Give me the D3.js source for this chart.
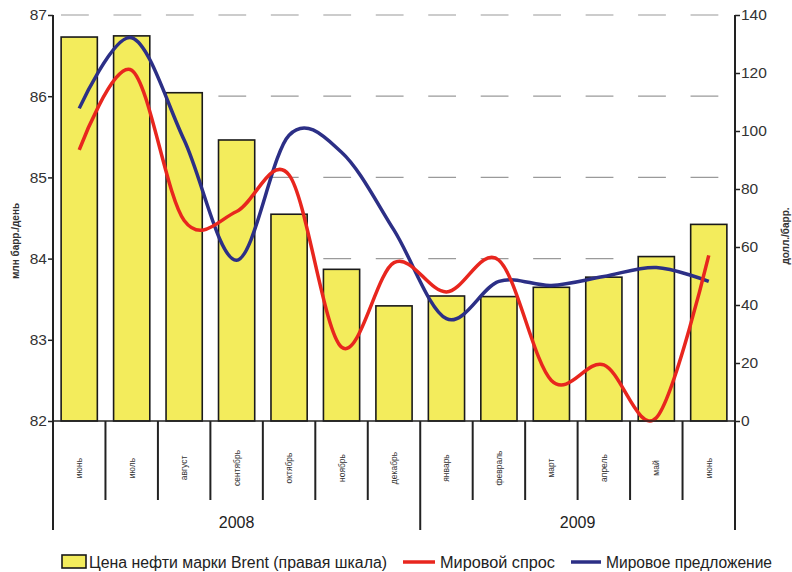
<!DOCTYPE html>
<html>
<head>
<meta charset="utf-8">
<script src="https://cdn.jsdelivr.net/npm/d3@7"></script>
<style>
  body { margin: 0; background: #fff; }
  svg { font-family: "Liberation Sans Narrow", "Arial Narrow", "Liberation Sans", Arial, sans-serif; }
</style>
</head>
<body>
<svg id="chart" width="792" height="572"></svg>
<script>
// данные читаются с картинки
const months = ["июнь", "июль", "август", "сентябрь", "октябрь", "ноябрь", "декабрь",
  "январь", "февраль", "март", "апрель", "май", "июнь"];
const years = ["2008", "2009"];
const yearStart = [0, 7]; // индекс первого месяца каждого года
const brent = [132.4, 132.8, 113.2, 96.9, 71.3, 52.3, 39.7, 43.1, 42.9, 46.1, 49.6, 56.7, 67.8];
const demand = [85.34, 86.32, 84.47, 84.58, 85.03, 82.91, 83.95, 83.59, 83.98, 82.5, 82.69, 82.04, 84.04];
const supply = [85.85, 86.72, 85.46, 83.98, 85.52, 85.31, 84.35, 83.26, 83.72, 83.67, 83.78, 83.89, 83.72];
const leftTicks = [82, 83, 84, 85, 86, 87];
const rightTicks = [0, 20, 40, 60, 80, 100, 120, 140];

const margin = { top: 15, right: 57, bottom: 151, left: 53 };
const width = 792, height = 572;
const x0 = margin.left, x1 = width - margin.right;
const y0 = height - margin.bottom, y1 = margin.top;

const svg = d3.select("#chart");

const x = d3.scaleBand().domain(d3.range(months.length)).range([x0, x1]);
const xBar = d3.scaleBand().domain(d3.range(months.length)).range([x0, x1])
  .paddingInner(0.31).paddingOuter(0.155);
const yL = d3.scaleLinear().domain([82, 87]).range([y0, y1]);
const yR = d3.scaleLinear().domain([0, 140]).range([y0, y1]);

// пунктирная сетка
const step = x.step();
svg.append("g")
  .selectAll("line")
  .data(leftTicks.filter((d) => d > 82))
  .join("line")
  .attr("x1", x0)
  .attr("x2", x1)
  .attr("y1", (d) => yL(d))
  .attr("y2", (d) => yL(d))
  .attr("stroke", "#9a9a9a")
  .attr("stroke-width", 1.2)
  .attr("stroke-dasharray", `${step * 0.53},${step * 0.47}`)
  .attr("stroke-dashoffset", step - 8);

// столбики Brent
svg.append("g")
  .selectAll("rect")
  .data(brent)
  .join("rect")
  .attr("x", (d, i) => xBar(i))
  .attr("width", xBar.bandwidth())
  .attr("y", (d) => yR(d))
  .attr("height", (d) => yR(0) - yR(d))
  .attr("fill", "#f3ec5c")
  .attr("stroke", "#1a1a1a")
  .attr("stroke-width", 1.6);

// линии
const line = (vals) =>
  d3.line()
    .x((d, i) => x(i) + x.bandwidth() / 2)
    .y((d) => yL(d))
    .curve(d3.curveCatmullRom.alpha(0))(vals);

svg.append("path")
  .attr("d", line(supply))
  .attr("fill", "none")
  .attr("stroke", "#2c2f86")
  .attr("stroke-width", 3.5);

svg.append("path")
  .attr("d", line(demand))
  .attr("fill", "none")
  .attr("stroke", "#e8261e")
  .attr("stroke-width", 3.5);

// левая ось
const leftAxis = svg.append("g")
  .attr("transform", `translate(${x0},0)`)
  .call(d3.axisLeft(yL).tickValues(leftTicks).tickFormat(d3.format("d")).tickSize(5).tickSizeOuter(0));
leftAxis.select(".domain").remove();
leftAxis.selectAll("line").attr("stroke", "#222").attr("stroke-width", 1.5);
leftAxis.selectAll("text").attr("font-size", 15.5).attr("fill", "#333").attr("x", -6);

// правая ось
const rightAxis = svg.append("g")
  .attr("transform", `translate(${x1},0)`)
  .call(d3.axisRight(yR).tickValues(rightTicks).tickSize(5).tickSizeOuter(0));
rightAxis.select(".domain").remove();
rightAxis.selectAll("line").attr("stroke", "#222").attr("stroke-width", 1.5);
rightAxis.selectAll("text").attr("font-size", 15.5).attr("fill", "#333").attr("x", 6);

// вертикальные линии осей, уходят вниз к годам
svg.append("line").attr("x1", x0).attr("x2", x0).attr("y1", y1).attr("y2", 530)
  .attr("stroke", "#222").attr("stroke-width", 2);
svg.append("line").attr("x1", x1).attr("x2", x1).attr("y1", y1).attr("y2", 530)
  .attr("stroke", "#222").attr("stroke-width", 2);
svg.append("line").attr("x1", x0).attr("x2", x1).attr("y1", y0).attr("y2", y0)
  .attr("stroke", "#222").attr("stroke-width", 1.5);

// разделители месяцев
svg.append("g")
  .selectAll("line")
  .data(d3.range(1, months.length))
  .join("line")
  .attr("x1", (i) => x(i))
  .attr("x2", (i) => x(i))
  .attr("y1", y0)
  .attr("y2", (i) => (yearStart.includes(i) ? 530 : 500))
  .attr("stroke", "#222")
  .attr("stroke-width", 2);

// подписи месяцев
svg.append("g")
  .selectAll("text")
  .data(months)
  .join("text")
  .attr("transform", (d, i) => `translate(${x(i) + x.bandwidth() / 2 + 3},468) rotate(-90)`)
  .attr("text-anchor", "middle")
  .attr("font-size", 8.5)
  .attr("fill", "#333")
  .text((d) => d);

// подписи годов
svg.append("g")
  .selectAll("text")
  .data(years)
  .join("text")
  .attr("x", (d, i) => {
    const a = x(yearStart[i]);
    const b = i + 1 < yearStart.length ? x(yearStart[i + 1]) : x1;
    return (a + b) / 2;
  })
  .attr("y", 528)
  .attr("text-anchor", "middle")
  .attr("font-size", 16)
  .attr("fill", "#222")
  .text((d) => d);

// названия осей
svg.append("text")
  .attr("transform", `translate(19,241) rotate(-90)`)
  .attr("text-anchor", "middle")
  .attr("font-size", 10)
  .attr("font-weight", "bold")
  .attr("fill", "#333")
  .text("млн барр./день");
svg.append("text")
  .attr("transform", `translate(789,236) rotate(-90)`)
  .attr("text-anchor", "middle")
  .attr("font-size", 10)
  .attr("font-weight", "bold")
  .attr("fill", "#333")
  .text("долл./барр.");

// легенда
const legend = svg.append("g").attr("transform", "translate(0,562)");
legend.append("rect")
  .attr("x", 62).attr("y", -7).attr("width", 24).attr("height", 13)
  .attr("fill", "#f3ec5c").attr("stroke", "#1a1a1a").attr("stroke-width", 1.6);
legend.append("text").attr("x", 89).attr("y", 6).attr("font-size", 16).attr("fill", "#222")
  .attr("textLength", 298).attr("lengthAdjust", "spacingAndGlyphs")
  .text("Цена нефти марки Brent (правая шкала)");
legend.append("line").attr("x1", 403).attr("x2", 435).attr("y1", 0).attr("y2", 0)
  .attr("stroke", "#e8261e").attr("stroke-width", 3.5);
legend.append("text").attr("x", 440).attr("y", 6).attr("font-size", 16).attr("fill", "#222")
  .attr("textLength", 115).attr("lengthAdjust", "spacingAndGlyphs")
  .text("Мировой спрос");
legend.append("line").attr("x1", 571).attr("x2", 601).attr("y1", 0).attr("y2", 0)
  .attr("stroke", "#2c2f86").attr("stroke-width", 3.5);
legend.append("text").attr("x", 606).attr("y", 6).attr("font-size", 16).attr("fill", "#222")
  .attr("textLength", 166).attr("lengthAdjust", "spacingAndGlyphs")
  .text("Мировое предложение");
</script>
</body>
</html>
